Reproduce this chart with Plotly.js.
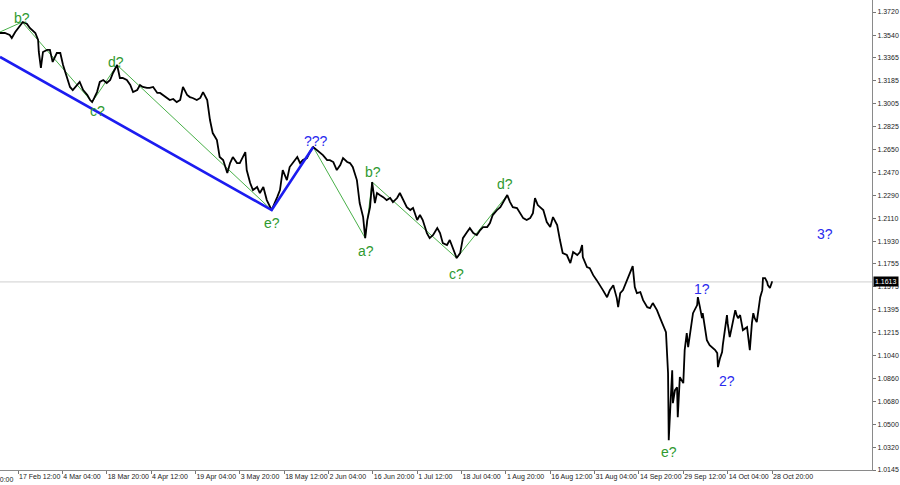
<!DOCTYPE html>
<html>
<head>
<meta charset="utf-8">
<script src="https://cdn.plot.ly/plotly-3.0.1.min.js"></script>
<style>html,body{margin:0;padding:0;background:#fff}#chart{width:900px;height:485px}</style>
</head>
<body>
<div id="chart"></div>
<script>
// H4 bar index (one tick label every 64 bars) and price
const bars = [
 38,45,52,55,60,67,71,77,81,89,
 93,94,97,100,106,110,114,120,125,129,
 135,139,143,149,153,158,164,168,171,174,
 178,182,187,192,197,201,207,211,215,221,
 226,230,236,240,244,250,254,259,265,269,
 273,279,283,288,293,298,302,308,312,316,
 322,327,331,337,341,345,351,355,360,366,
 370,374,380,384,392,394,399,403,409,413,
 418,423,428,430,438,442,446,452,456,461,
 467,471,475,481,485,490,495,500,504,510,
 514,519,524,529,533,539,543,547,553,557,
 562,565,568,572,575,579,582,586,591,596,
 601,605,611,615,620,625,630,634,640,644,
 648,654,658,663,669,673,677,683,687,692,
 697,702,706,712,716,721,726,731,735,741,
 745,749,755,760,764,770,774,778,784,788,
 793,798,803,807,810,814,817,822,827,832,
 836,842,846,850,856,861,865,871,875,878,
 879,885,889,894,899,904,908,914,918,923,
 928,930,933,937,943,947,951,954,957,962,
 966,972,976,980,986,990,995,999,1002,1003,
 1006,1008,1009,1012,1015,1016,1019,1024,1026,1029,
 1031,1034,1038,1044,1045,1048,1051,1052,1055,1058,
 1062,1067,1070,1073,1074,1077,1080,1081,1084,1087,
 1088,1091,1094,1099,1101,1103,1106,1109,1110,1116,
 1117,1120,1123,1125,1127,1130,1132,1135,1138,1139,
 1142,1145,1146,1149,1152,1153
];
const prices = [
 1.3556,1.3556,1.3541,1.3517,1.3564,1.3619,1.3642,1.3627,1.3595,1.3556,
 1.3502,1.3408,1.3283,1.3408,1.3424,1.3424,1.3330,1.3400,1.3400,1.3306,
 1.3213,1.3135,1.3111,1.3150,1.3174,1.3111,1.3072,1.3033,1.3017,1.3049,
 1.3095,1.3174,1.3189,1.3166,1.3189,1.3244,1.3306,1.3205,1.3205,1.3189,
 1.3150,1.3095,1.3111,1.3150,1.3135,1.3127,1.3127,1.3135,1.3088,1.3088,
 1.3072,1.3049,1.3033,1.3041,1.3017,1.3033,1.3135,1.3072,1.3056,1.3049,
 1.3033,1.3049,1.3095,1.3033,1.2877,1.2775,1.2721,1.2588,1.2564,1.2463,
 1.2541,1.2588,1.2541,1.2541,1.2627,1.2486,1.2385,1.2330,1.2354,1.2307,
 1.2354,1.2252,1.2190,1.2174,1.2275,1.2330,1.2486,1.2408,1.2510,1.2549,
 1.2588,1.2541,1.2564,1.2580,1.2627,1.2666,1.2643,1.2627,1.2603,1.2564,
 1.2564,1.2549,1.2486,1.2525,1.2580,1.2549,1.2541,1.2510,1.2408,1.2229,
 1.2119,1.1955,1.2096,1.2197,1.2393,1.2229,1.2307,1.2291,1.2275,1.2252,
 1.2268,1.2236,1.2268,1.2307,1.2252,1.2197,1.2174,1.2190,1.2096,1.2135,
 1.2096,1.1994,1.1955,1.1979,1.2033,1.1994,1.1916,1.1901,1.1940,1.1862,
 1.1799,1.1838,1.1955,1.2002,1.2033,1.1994,1.1979,1.2018,1.2041,1.2041,
 1.2072,1.2135,1.2174,1.2197,1.2236,1.2291,1.2236,1.2197,1.2190,1.2158,
 1.2111,1.2096,1.2111,1.2150,1.2268,1.2213,1.2197,1.2174,1.2080,1.2041,
 1.2119,1.2057,1.1940,1.1838,1.1823,1.1760,1.1846,1.1823,1.1846,1.1901,
 1.1807,1.1729,1.1721,1.1666,1.1627,1.1588,1.1549,1.1494,1.1549,1.1588,
 1.1487,1.1416,1.1526,1.1549,1.1627,1.1690,1.1737,1.1573,1.1526,1.1534,
 1.1471,1.1416,1.1409,1.1448,1.1393,1.1338,1.1276,1.1221,1.0901,1.0378,
 1.0713,1.0924,1.0667,1.0768,1.0791,1.0557,1.0870,1.0823,1.1081,1.1213,
 1.1104,1.1213,1.1369,1.1432,1.1494,1.1416,1.1330,1.1369,1.1260,1.1159,
 1.1119,1.1096,1.1081,1.1057,1.0948,1.1018,1.1065,1.1119,1.1260,1.1354,
 1.1291,1.1182,1.1260,1.1393,1.1354,1.1330,1.1354,1.1260,1.1237,1.1260,
 1.1213,1.1081,1.1291,1.1369,1.1330,1.1299,1.1377,1.1494,1.1549,1.1643,
 1.1643,1.1612,1.1588,1.1565,1.1612,1.1613
];

// Time axis labels (every 64 H4 bars)
const tickBars = [0,64,128,192,256,320,384,448,512,576,640,704,768,832,896,960,1024,1088,1152];
const tickLabels = ["2 Feb 20:00","17 Feb 12:00","4 Mar 04:00","18 Mar 20:00","4 Apr 12:00","19 Apr 04:00",
  "3 May 20:00","18 May 12:00","2 Jun 04:00","16 Jun 20:00","1 Jul 12:00","18 Jul 04:00","1 Aug 20:00",
  "16 Aug 12:00","31 Aug 04:00","14 Sep 20:00","29 Sep 12:00","14 Oct 04:00","28 Oct 20:00"];
// Price axis labels
const priceTicks = [1.3720,1.3540,1.3365,1.3185,1.3005,1.2825,1.2650,1.2470,1.2290,1.2110,1.1930,
  1.1755,1.1575,1.1395,1.1215,1.1040,1.0860,1.0680,1.0500,1.0320,1.0145];

// Wave markup
const blueWaveBars = [38,430,490];
const blueWavePrices = [1.3369,1.2174,1.2666];
const greenWaveABars = [38,70,171,207,430];
const greenWaveAPrices = [1.3564,1.3642,1.3017,1.3306,1.2174];
const greenWaveBBars = [490,565,575,697,770];
const greenWaveBPrices = [1.2666,1.1955,1.2393,1.1799,1.2291];

const waveLabels = ["b?","c?","d?","e?","???","a?","b?","c?","d?","e?","1?","2?","3?"];
const waveLabelBars = [70,178,205,430,494,566,576,697,767,1003,1051,1087,1228];
const waveLabelPrices = [1.3673,1.2947,1.3330,1.2072,1.2713,1.1854,1.2471,1.1674,1.2377,1.0284,1.1557,1.0838,1.1986];
const waveLabelGroup = ["g","g","g","g","b","g","g","g","g","g","b","b","b"];

const GREEN_TXT = '#2f9a2f', BLUE_TXT = '#2a2aee';
const lastPrice = prices[prices.length-1];

const traces = [
  {x: greenWaveABars, y: greenWaveAPrices, type:'scatter', mode:'lines', line:{color:'#49b049', width:1}, hoverinfo:'skip'},
  {x: greenWaveBBars, y: greenWaveBPrices, type:'scatter', mode:'lines', line:{color:'#49b049', width:1}, hoverinfo:'skip'},
  {x: bars, y: prices, type:'scatter', mode:'lines', line:{color:'#000000', width:1.8}, hoverinfo:'skip'},
  {x: blueWaveBars, y: blueWavePrices, type:'scatter', mode:'lines', line:{color:'#1c1cf0', width:2.6}, hoverinfo:'skip'}
];

const tickFont = {family:'Liberation Sans, Arial, sans-serif', size:7, color:'#222'};

const annotations = waveLabels.map((t,i)=>({
  x: waveLabelBars[i], y: waveLabelPrices[i], xref:'x', yref:'y', text:t, showarrow:false,
  font:{family:'Liberation Sans, Arial, sans-serif', size:14, color: waveLabelGroup[i]==='g'?GREEN_TXT:BLUE_TXT},
  xanchor:'center', yanchor:'middle'
}));
// first (cut-off) time label
annotations.push({x:(tickBars[0]-38)/(1296.3-38), xref:'paper', y:0, yref:'paper', yanchor:'top', xanchor:'left',
  yshift:-4, text:tickLabels[0], showarrow:false, font:tickFont});
// current price box
annotations.push({x:1, xref:'paper', y:lastPrice, yref:'y', xanchor:'left', yanchor:'middle', xshift:1,
  text:lastPrice.toFixed(4), showarrow:false, bgcolor:'#000', borderpad:1,
  font:{family:'Liberation Sans, Arial, sans-serif', size:7, color:'#fff'}});

const layout = {
  width:900, height:485,
  margin:{l:0, r:28, t:0, b:15, pad:0},
  paper_bgcolor:'#fff', plot_bgcolor:'#fff',
  showlegend:false,
  xaxis:{range:[38,1296.3], tickmode:'array', tickvals:tickBars.slice(1), ticktext:tickLabels.slice(1),
    ticks:'outside', ticklen:3, tickcolor:'#777', showline:true, linecolor:'#8a8a8a', linewidth:1, tickangle:0,
    showgrid:false, zeroline:false, ticklabelposition:'outside right', tickfont:tickFont, fixedrange:true},
  yaxis:{range:[1.0145,1.38137], side:'right', tickmode:'array', tickvals:priceTicks,
    ticktext:priceTicks.map(v=>v.toFixed(4)), ticks:'outside', ticklen:3, tickcolor:'#777',
    showline:true, linecolor:'#8a8a8a', linewidth:1, showgrid:false, zeroline:false, tickfont:tickFont, fixedrange:true},
  shapes:[{type:'line', xref:'paper', x0:0, x1:1, yref:'y', y0:lastPrice, y1:lastPrice,
    line:{color:'#cfcfcf', width:1}, layer:'below'}],
  annotations: annotations
};

Plotly.newPlot('chart', traces, layout, {displayModeBar:false, staticPlot:true});
</script>
</body>
</html>
